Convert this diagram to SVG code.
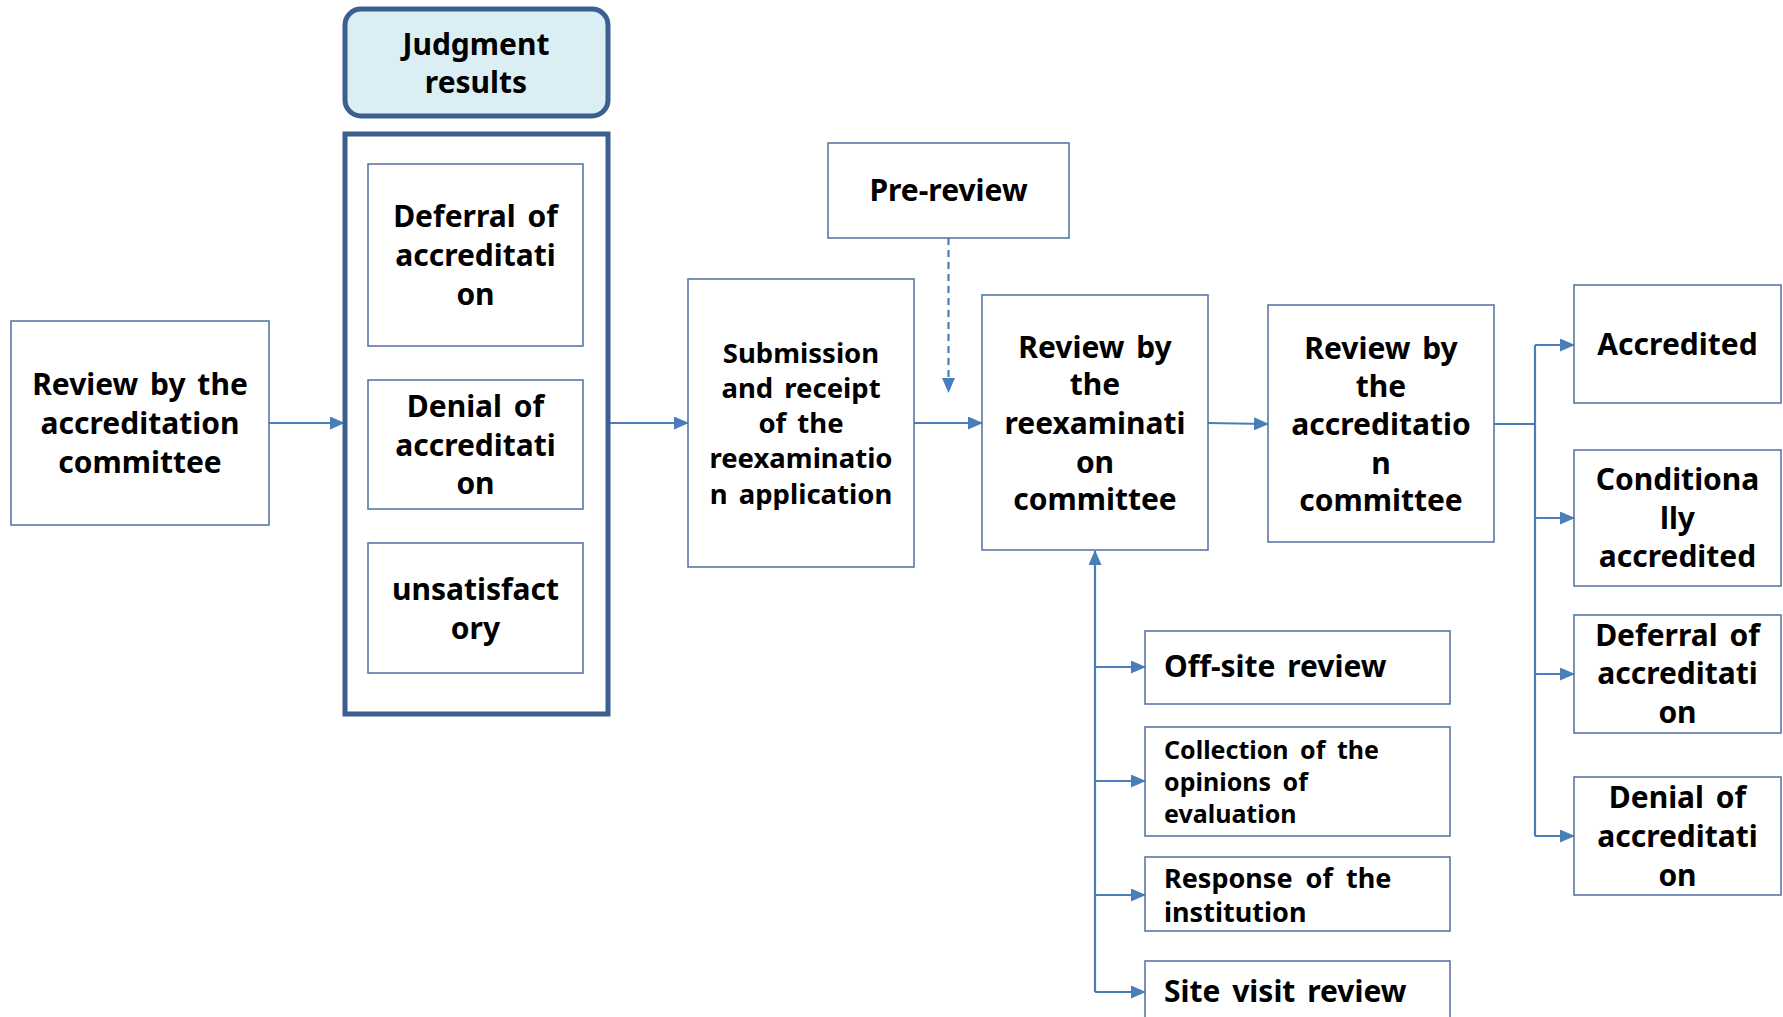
<svg xmlns="http://www.w3.org/2000/svg" width="1783" height="1017" viewBox="0 0 1783 1017">
<defs>
<marker id="ah" markerUnits="userSpaceOnUse" markerWidth="15" markerHeight="13" refX="14" refY="6.5" orient="auto">
<path d="M0,0 L15,6.5 L0,13 z" fill="#4A7EBB"/>
</marker>
<style>
.box{fill:#fff;stroke:#4F6FA0;stroke-width:1.5}
.outer{fill:#fff;stroke:#3B5F8E;stroke-width:5}
.head{fill:#DAEEF3;stroke:#3B5F8E;stroke-width:5}
.con{fill:none;stroke:#4A7EBB;stroke-width:2.2}
.dash{stroke-dasharray:7 5}
text{font-family:"Noto Sans","Open Sans","Liberation Sans",sans-serif;font-weight:bold;fill:#000;word-spacing:4px}
.c{text-anchor:middle;font-size:30px}
.s{text-anchor:middle;font-size:27.5px}
.l{text-anchor:start;font-size:30px}
.ls{text-anchor:start;font-size:25px;word-spacing:5px}
.lm{text-anchor:start;font-size:27px;word-spacing:6px}
</style>
</defs>
<rect width="1783" height="1017" fill="#fff"/>

<g id="connectors">
<line class="con" x1="269" y1="423" x2="344" y2="423" marker-end="url(#ah)"/>
<line class="con" x1="608" y1="423" x2="688" y2="423" marker-end="url(#ah)"/>
<line class="con" x1="914" y1="423" x2="982" y2="423" marker-end="url(#ah)"/>
<line class="con dash" x1="948.5" y1="238" x2="948.5" y2="392" marker-end="url(#ah)"/>
<line class="con" x1="1208" y1="423" x2="1268" y2="424" marker-end="url(#ah)"/>
<path class="con" d="M1494,424 H1535"/>
<path class="con" d="M1535,345 V836"/>
<line class="con" x1="1535" y1="345" x2="1574" y2="345" marker-end="url(#ah)"/>
<line class="con" x1="1535" y1="518" x2="1574" y2="518" marker-end="url(#ah)"/>
<line class="con" x1="1535" y1="674" x2="1574" y2="674" marker-end="url(#ah)"/>
<line class="con" x1="1535" y1="836" x2="1574" y2="836" marker-end="url(#ah)"/>
<line class="con" x1="1095" y1="992" x2="1095" y2="551" marker-end="url(#ah)"/>
<line class="con" x1="1095" y1="667" x2="1145" y2="667" marker-end="url(#ah)"/>
<line class="con" x1="1095" y1="781" x2="1145" y2="781" marker-end="url(#ah)"/>
<line class="con" x1="1095" y1="895" x2="1145" y2="895" marker-end="url(#ah)"/>
<line class="con" x1="1095" y1="992" x2="1145" y2="992" marker-end="url(#ah)"/>
</g>

<g id="review-accreditation-committee-1">
<rect class="box" x="11" y="321" width="258" height="204"/>
<text class="c" x="140" y="395">Review by the</text>
<text class="c" x="140" y="434">accreditation</text>
<text class="c" x="140" y="473">committee</text>
</g>

<g id="judgment-results">
<rect class="head" x="345" y="9" width="263" height="107" rx="16"/>
<text class="c" x="476" y="55">Judgment</text>
<text class="c" x="476" y="93">results</text>
</g>

<g id="judgment-group">
<rect class="outer" x="345" y="134" width="263" height="580"/>
</g>

<g id="deferral-1">
<rect class="box" x="368" y="164" width="215" height="182"/>
<text class="c" x="475.5" y="227">Deferral of</text>
<text class="c" x="475.5" y="266">accreditati</text>
<text class="c" x="475.5" y="305">on</text>
</g>

<g id="denial-1">
<rect class="box" x="368" y="380" width="215" height="129"/>
<text class="c" x="475.5" y="417">Denial of</text>
<text class="c" x="475.5" y="456">accreditati</text>
<text class="c" x="475.5" y="494">on</text>
</g>

<g id="unsatisfactory">
<rect class="box" x="368" y="543" width="215" height="130"/>
<text class="c" x="475.5" y="600">unsatisfact</text>
<text class="c" x="475.5" y="639">ory</text>
</g>

<g id="submission">
<rect class="box" x="688" y="279" width="226" height="288"/>
<text class="s" x="801" y="363">Submission</text>
<text class="s" x="801" y="398">and receipt</text>
<text class="s" x="801" y="433">of the</text>
<text class="s" x="801" y="468">reexaminatio</text>
<text class="s" x="801" y="504">n application</text>
</g>

<g id="pre-review">
<rect class="box" x="828" y="143" width="241" height="95"/>
<text class="c" x="948.5" y="201">Pre-review</text>
</g>

<g id="review-reexamination-committee">
<rect class="box" x="982" y="295" width="226" height="255"/>
<text class="c" x="1095" y="358">Review by</text>
<text class="c" x="1095" y="395">the</text>
<text class="c" x="1095" y="434">reexaminati</text>
<text class="c" x="1095" y="473">on</text>
<text class="c" x="1095" y="510">committee</text>
</g>

<g id="review-accreditation-committee-2">
<rect class="box" x="1268" y="305" width="226" height="237"/>
<text class="c" x="1381" y="359">Review by</text>
<text class="c" x="1381" y="397">the</text>
<text class="c" x="1381" y="435">accreditatio</text>
<text class="c" x="1381" y="474">n</text>
<text class="c" x="1381" y="511">committee</text>
</g>

<g id="accredited">
<rect class="box" x="1574" y="285" width="207" height="118"/>
<text class="c" x="1677.5" y="355">Accredited</text>
</g>

<g id="conditionally-accredited">
<rect class="box" x="1574" y="450" width="207" height="136"/>
<text class="c" x="1677.5" y="490">Conditiona</text>
<text class="c" x="1677.5" y="529">lly</text>
<text class="c" x="1677.5" y="567">accredited</text>
</g>

<g id="deferral-2">
<rect class="box" x="1574" y="615" width="207" height="118"/>
<text class="c" x="1677.5" y="646">Deferral of</text>
<text class="c" x="1677.5" y="684">accreditati</text>
<text class="c" x="1677.5" y="723">on</text>
</g>

<g id="denial-2">
<rect class="box" x="1574" y="777" width="207" height="118"/>
<text class="c" x="1677.5" y="808">Denial of</text>
<text class="c" x="1677.5" y="847">accreditati</text>
<text class="c" x="1677.5" y="886">on</text>
</g>

<g id="off-site-review">
<rect class="box" x="1145" y="631" width="305" height="73"/>
<text class="l" x="1164" y="677">Off-site review</text>
</g>

<g id="collection-opinions">
<rect class="box" x="1145" y="727" width="305" height="109"/>
<text class="ls" x="1164" y="759">Collection of the<tspan x="1164" y="791">opinions of</tspan><tspan x="1164" y="823">evaluation</tspan></text>
</g>

<g id="response-institution">
<rect class="box" x="1145" y="857" width="305" height="74"/>
<text class="lm" x="1164" y="888">Response of the<tspan x="1164" y="922">institution</tspan></text>
</g>

<g id="site-visit-review">
<rect class="box" x="1145" y="961" width="305" height="70"/>
<text class="l" x="1164" y="1002">Site visit review</text>
</g>
</svg>
